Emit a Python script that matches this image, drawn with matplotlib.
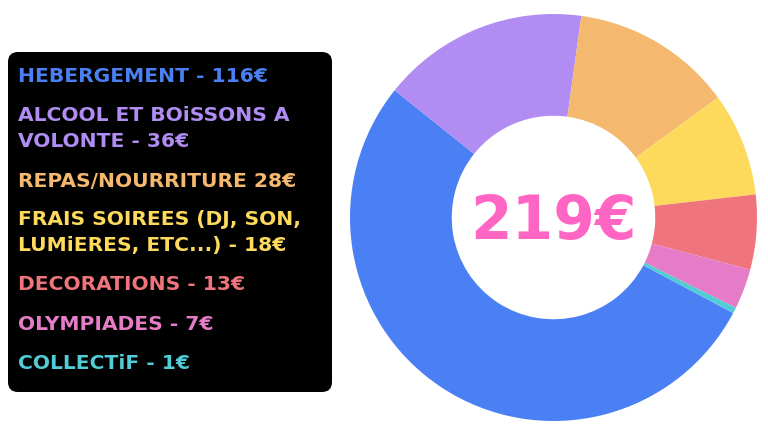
import matplotlib.pyplot as plt
from matplotlib.patches import FancyBboxPatch

# Données
categories = ['HEBERGEMENT', 'ALCOOL ET BOiSSONS A\nVOLONTE', 'REPAS/NOURRITURE',
              'FRAIS SOIREES (DJ, SON,\nLUMiERES, ETC...)', 'DECORATIONS', 'OLYMPIADES', 'COLLECTiF']
valeurs = [116, 36, 28, 18, 13, 7, 1]
separateurs = [' - ', ' - ', ' ', ' - ', ' - ', ' - ', ' - ']
couleurs = ['#4b80f4', '#b08cf3', '#f4b86f', '#fdd95c', '#ef747b', '#e67cc8', '#52ccd6']
total = sum(valeurs)

W, H = 768, 436
fig = plt.figure(figsize=(W / 100, H / 100), dpi=100)
fig.patch.set_facecolor('white')

# Donut
cx, cy, r = 553.5, 217.5, 203.5
ax = fig.add_axes([(cx - r) / W, 1 - (cy + r) / H, 2 * r / W, 2 * r / H])
ax.pie(valeurs, colors=couleurs, startangle=-28, counterclock=False, radius=1,
       wedgeprops=dict(width=0.5, linewidth=0))
ax.set_xlim(-1, 1)
ax.set_ylim(-1, 1)
ax.set_aspect('equal')
ax.axis('off')
ax.text(0, -0.025, f'{total}€', ha='center', va='center', fontsize=43,
        fontweight='bold', color='#ff66c4')

# Légende (boîte noire)
bg = fig.add_axes([0, 0, 1, 1], zorder=-1)
bg.set_xlim(0, W)
bg.set_ylim(H, 0)
bg.axis('off')
bg.add_patch(FancyBboxPatch((8 + 10, 52 + 10), 324 - 20, 340 - 20,
                            boxstyle='round,pad=10', facecolor='black', edgecolor='none'))

tx = fig.add_axes([0, 0, 1, 1], zorder=2)
tx.set_xlim(0, W)
tx.set_ylim(H, 0)
tx.axis('off')
positions_y = [76.5, 128.5, 181.5, 232.5, 284.5, 324.5, 363.5]
for cat, val, sep, col, y in zip(categories, valeurs, separateurs, couleurs, positions_y):
    tx.text(18, y, f'{cat}{sep}{val}€', color=col, fontsize=14.6, fontweight='bold',
            ha='left', va='center', linespacing=1.42)

fig.savefig('out.png', dpi=100)
